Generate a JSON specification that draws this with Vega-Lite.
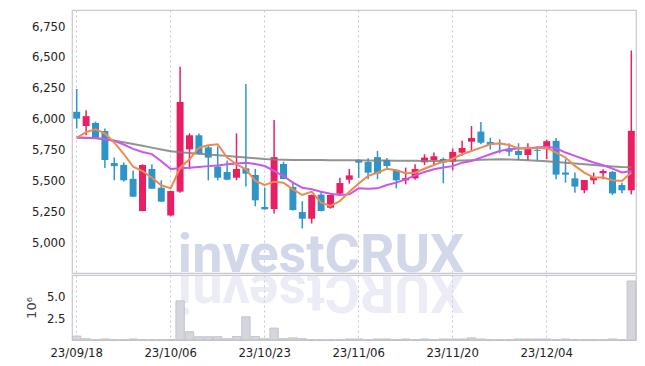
{
  "$schema": "https://vega.github.io/schema/vega-lite/v6.json",
  "padding": {"left": 24, "top": 9, "right": 5, "bottom": 5},
  "background": "white",
  "spacing": 0,
  "data": {"values": [
    {"d":"23/09/18","o":6055,"h":6240,"l":5920,"c":6000,"v":0.45,"m5":5845,"m20":5846,"m60":5846},
    {"d":"23/09/19","o":5940,"h":6068,"l":5865,"c":6020,"v":0.15,"m5":5891,"m20":5845,"m60":5843},
    {"d":"23/09/20","o":5965,"h":5975,"l":5840,"c":5845,"v":0.03,"m5":5913,"m20":5843,"m60":5840},
    {"d":"23/09/21","o":5900,"h":5920,"l":5600,"c":5665,"v":0.12,"m5":5880,"m20":5835,"m60":5832},
    {"d":"23/09/22","o":5640,"h":5685,"l":5500,"c":5615,"v":0.03,"m5":5805,"m20":5820,"m60":5820},
    {"d":"23/09/25","o":5625,"h":5645,"l":5490,"c":5500,"v":0.03,"m5":5715,"m20":5790,"m60":5808},
    {"d":"23/09/26","o":5512,"h":5580,"l":5365,"c":5367,"v":0.12,"m5":5610,"m20":5755,"m60":5795},
    {"d":"23/09/27","o":5251,"h":5630,"l":5250,"c":5624,"v":0.03,"m5":5575,"m20":5730,"m60":5780},
    {"d":"23/10/04","o":5592,"h":5630,"l":5430,"c":5432,"v":0.03,"m5":5521,"m20":5712,"m60":5765},
    {"d":"23/10/05","o":5440,"h":5500,"l":5325,"c":5327,"v":0.03,"m5":5460,"m20":5655,"m60":5750},
    {"d":"23/10/06","o":5215,"h":5415,"l":5210,"c":5413,"v":0.05,"m5":5435,"m20":5592,"m60":5735},
    {"d":"23/10/10","o":5408,"h":6420,"l":5400,"c":6135,"v":4.47,"m5":5602,"m20":5598,"m60":5728},
    {"d":"23/10/11","o":5751,"h":5880,"l":5590,"c":5865,"v":0.95,"m5":5670,"m20":5602,"m60":5722},
    {"d":"23/10/12","o":5865,"h":5880,"l":5710,"c":5716,"v":0.38,"m5":5764,"m20":5608,"m60":5716},
    {"d":"23/10/13","o":5767,"h":5780,"l":5500,"c":5684,"v":0.38,"m5":5785,"m20":5615,"m60":5710},
    {"d":"23/10/16","o":5611,"h":5775,"l":5500,"c":5521,"v":0.38,"m5":5792,"m20":5620,"m60":5704},
    {"d":"23/10/17","o":5567,"h":5660,"l":5500,"c":5505,"v":0.15,"m5":5684,"m20":5630,"m60":5698},
    {"d":"23/10/18","o":5521,"h":5880,"l":5500,"c":5592,"v":0.40,"m5":5630,"m20":5637,"m60":5690},
    {"d":"23/10/19","o":5597,"h":6280,"l":5450,"c":5554,"v":2.65,"m5":5589,"m20":5643,"m60":5684},
    {"d":"23/10/20","o":5543,"h":5592,"l":5290,"c":5338,"v":0.40,"m5":5495,"m20":5632,"m60":5678},
    {"d":"23/10/23","o":5284,"h":5440,"l":5262,"c":5265,"v":0.15,"m5":5462,"m20":5616,"m60":5672},
    {"d":"23/10/24","o":5267,"h":5988,"l":5232,"c":5688,"v":1.36,"m5":5489,"m20":5576,"m60":5668},
    {"d":"23/10/25","o":5632,"h":5651,"l":5510,"c":5510,"v":0.15,"m5":5481,"m20":5535,"m60":5666},
    {"d":"23/10/26","o":5446,"h":5489,"l":5255,"c":5259,"v":0.25,"m5":5427,"m20":5481,"m60":5665},
    {"d":"23/10/27","o":5243,"h":5330,"l":5110,"c":5189,"v":0.15,"m5":5381,"m20":5440,"m60":5665},
    {"d":"23/10/30","o":5189,"h":5385,"l":5150,"c":5381,"v":0.03,"m5":5408,"m20":5427,"m60":5664},
    {"d":"23/10/31","o":5384,"h":5413,"l":5250,"c":5251,"v":0.03,"m5":5319,"m20":5408,"m60":5664},
    {"d":"23/11/01","o":5278,"h":5385,"l":5270,"c":5381,"v":0.03,"m5":5292,"m20":5392,"m60":5663},
    {"d":"23/11/02","o":5392,"h":5520,"l":5385,"c":5478,"v":0.03,"m5":5332,"m20":5381,"m60":5662},
    {"d":"23/11/03","o":5505,"h":5592,"l":5473,"c":5540,"v":0.12,"m5":5408,"m20":5386,"m60":5662},
    {"d":"23/11/06","o":5665,"h":5670,"l":5519,"c":5643,"v":0.12,"m5":5475,"m20":5435,"m60":5662},
    {"d":"23/11/07","o":5649,"h":5678,"l":5508,"c":5562,"v":0.03,"m5":5535,"m20":5432,"m60":5661},
    {"d":"23/11/08","o":5688,"h":5738,"l":5508,"c":5555,"v":0.12,"m5":5562,"m20":5435,"m60":5660},
    {"d":"23/11/09","o":5665,"h":5680,"l":5589,"c":5616,"v":0.12,"m5":5594,"m20":5462,"m60":5660},
    {"d":"23/11/10","o":5584,"h":5590,"l":5435,"c":5500,"v":0.03,"m5":5581,"m20":5481,"m60":5659},
    {"d":"23/11/13","o":5500,"h":5603,"l":5467,"c":5519,"v":0.12,"m5":5557,"m20":5508,"m60":5658},
    {"d":"23/11/14","o":5516,"h":5630,"l":5505,"c":5592,"v":0.03,"m5":5562,"m20":5540,"m60":5658},
    {"d":"23/11/15","o":5646,"h":5711,"l":5624,"c":5684,"v":0.12,"m5":5594,"m20":5567,"m60":5657},
    {"d":"23/11/16","o":5665,"h":5725,"l":5625,"c":5695,"v":0.03,"m5":5624,"m20":5589,"m60":5657},
    {"d":"23/11/17","o":5673,"h":5684,"l":5476,"c":5643,"v":0.12,"m5":5651,"m20":5603,"m60":5657},
    {"d":"23/11/20","o":5651,"h":5759,"l":5581,"c":5730,"v":0.12,"m5":5675,"m20":5615,"m60":5658},
    {"d":"23/11/21","o":5724,"h":5820,"l":5700,"c":5762,"v":0.12,"m5":5711,"m20":5643,"m60":5660},
    {"d":"23/11/22","o":5813,"h":5940,"l":5738,"c":5843,"v":0.25,"m5":5738,"m20":5657,"m60":5663},
    {"d":"23/11/23","o":5895,"h":5973,"l":5792,"c":5805,"v":0.12,"m5":5765,"m20":5684,"m60":5666},
    {"d":"23/11/24","o":5811,"h":5845,"l":5750,"c":5786,"v":0.03,"m5":5792,"m20":5711,"m60":5668},
    {"d":"23/11/27","o":5800,"h":5832,"l":5719,"c":5792,"v":0.03,"m5":5800,"m20":5738,"m60":5670},
    {"d":"23/11/28","o":5757,"h":5800,"l":5697,"c":5732,"v":0.03,"m5":5786,"m20":5751,"m60":5669},
    {"d":"23/11/29","o":5738,"h":5800,"l":5665,"c":5705,"v":0.12,"m5":5759,"m20":5757,"m60":5666},
    {"d":"23/11/30","o":5705,"h":5800,"l":5665,"c":5765,"v":0.12,"m5":5759,"m20":5759,"m60":5662},
    {"d":"23/12/01","o":5745,"h":5776,"l":5665,"c":5738,"v":0.12,"m5":5759,"m20":5765,"m60":5658},
    {"d":"23/12/04","o":5752,"h":5830,"l":5671,"c":5817,"v":0.12,"m5":5764,"m20":5772,"m60":5654},
    {"d":"23/12/05","o":5820,"h":5842,"l":5508,"c":5546,"v":0.03,"m5":5725,"m20":5760,"m60":5648},
    {"d":"23/12/06","o":5563,"h":5671,"l":5481,"c":5546,"v":0.12,"m5":5685,"m20":5725,"m60":5642},
    {"d":"23/12/07","o":5516,"h":5563,"l":5400,"c":5449,"v":0.03,"m5":5617,"m20":5698,"m60":5636},
    {"d":"23/12/08","o":5419,"h":5503,"l":5395,"c":5503,"v":0.03,"m5":5563,"m20":5671,"m60":5630},
    {"d":"23/12/11","o":5500,"h":5563,"l":5468,"c":5527,"v":0.03,"m5":5522,"m20":5644,"m60":5624},
    {"d":"23/12/12","o":5557,"h":5590,"l":5508,"c":5576,"v":0.03,"m5":5522,"m20":5622,"m60":5618},
    {"d":"23/12/13","o":5568,"h":5575,"l":5381,"c":5394,"v":0.12,"m5":5500,"m20":5595,"m60":5612},
    {"d":"23/12/14","o":5462,"h":5481,"l":5395,"c":5419,"v":0.03,"m5":5495,"m20":5563,"m60":5607},
    {"d":"23/12/15","o":5419,"h":6552,"l":5386,"c":5901,"v":6.74,"m5":5563,"m20":5576,"m60":5605}
  ]},
  "vconcat": [
    {
      "width": 564,
      "height": 263,
      "encoding": {
        "x": {"field": "d", "type": "ordinal", "sort": null, "scale": {"paddingInner": 0, "paddingOuter": 0},
              "axis": {"values": ["23/09/18","23/10/06","23/10/23","23/11/06","23/11/20","23/12/04"], "labels": false, "ticks": false, "domain": false, "title": null, "grid": true}}
      },
      "layer": [
        {
          "mark": {"type": "text", "font": "Roboto", "fontWeight": "bold", "fontSize": 54, "color": "#d3d7ea", "baseline": "alphabetic", "align": "center", "clip": true},
          "encoding": {
            "y": {"datum": 4757, "type": "quantitative", "scale": {"domain": [4749, 6880], "nice": false, "zero": false},
                  "axis": {"values": [5000,5250,5500,5750,6000,6250,6500,6750], "format": ",", "labelExpr": "format(datum.value, ',')", "labelOverlap": false, "title": null, "domain": false, "ticks": false, "labelPadding": 7}},
            "text": {"condition": {"test": "datum.d == '23/10/31'", "value": "investCRUX"}, "value": ""}
          }
        },
        {
          "mark": {"type": "rule", "strokeWidth": 1.5},
          "encoding": {
            "y": {"field": "l", "type": "quantitative", "scale": {"domain": [4749, 6880], "nice": false, "zero": false},
                  "axis": {"values": [5000,5250,5500,5750,6000,6250,6500,6750], "format": ",", "labelExpr": "format(datum.value, ',')", "labelOverlap": false, "title": null, "domain": false, "ticks": false, "labelPadding": 7}},
            "y2": {"field": "h"},
            "color": {"condition": {"test": "datum.c >= datum.o", "value": "#e91e63"}, "value": "#2f95c8"}
          }
        },
        {
          "mark": {"type": "bar", "width": {"band": 0.74}},
          "encoding": {
            "y": {"field": "o", "type": "quantitative", "scale": {"domain": [4749, 6880], "nice": false, "zero": false},
                  "axis": {"values": [5000,5250,5500,5750,6000,6250,6500,6750], "format": ",", "labelExpr": "format(datum.value, ',')", "labelOverlap": false, "title": null, "domain": false, "ticks": false, "labelPadding": 7}},
            "y2": {"field": "c"},
            "color": {"condition": {"test": "datum.c >= datum.o", "value": "#e91e63"}, "value": "#2f95c8"}
          }
        },
        {
          "mark": {"type": "line", "color": "#808080", "strokeWidth": 2, "opacity": 0.85},
          "encoding": {"y": {"field": "m60", "type": "quantitative", "scale": {"domain": [4749, 6880], "nice": false, "zero": false},
                  "axis": {"values": [5000,5250,5500,5750,6000,6250,6500,6750], "format": ",", "labelExpr": "format(datum.value, ',')", "labelOverlap": false, "title": null, "domain": false, "ticks": false, "labelPadding": 7}}}
        },
        {
          "mark": {"type": "line", "color": "#c957ee", "strokeWidth": 2},
          "encoding": {"y": {"field": "m20", "type": "quantitative", "scale": {"domain": [4749, 6880], "nice": false, "zero": false},
                  "axis": {"values": [5000,5250,5500,5750,6000,6250,6500,6750], "format": ",", "labelExpr": "format(datum.value, ',')", "labelOverlap": false, "title": null, "domain": false, "ticks": false, "labelPadding": 7}}}
        },
        {
          "mark": {"type": "line", "color": "#ef8a4d", "strokeWidth": 2},
          "encoding": {"y": {"field": "m5", "type": "quantitative", "scale": {"domain": [4749, 6880], "nice": false, "zero": false},
                  "axis": {"values": [5000,5250,5500,5750,6000,6250,6500,6750], "format": ",", "labelExpr": "format(datum.value, ',')", "labelOverlap": false, "title": null, "domain": false, "ticks": false, "labelPadding": 7}}}
        }
      ]
    },
    {
      "width": 564,
      "height": 65,
      "encoding": {
        "x": {"field": "d", "type": "ordinal", "sort": null, "scale": {"paddingInner": 0, "paddingOuter": 0},
              "axis": {"values": ["23/09/18","23/10/06","23/10/23","23/11/06","23/11/20","23/12/04"], "labelAngle": 0, "ticks": false, "domain": false, "title": null, "grid": true, "labelPadding": 6}}
      },
      "layer": [
        {
          "mark": {"type": "text", "font": "Roboto", "fontWeight": "bold", "fontSize": 54, "color": "#d3d7ea", "opacity": 0.45, "baseline": "alphabetic", "align": "center", "angle": 180, "clip": true},
          "encoding": {
            "y": {"datum": 7.42, "type": "quantitative", "scale": {"domain": [0, 7.42], "nice": false},
                  "axis": {"values": [2.5, 5.0], "labelExpr": "format(datum.value, '.1f')", "title": "10⁶", "domain": false, "ticks": false, "labelPadding": 7, "titlePadding": 8, "titleFont": "DejaVu Sans", "titleFontWeight": "normal", "titleFontSize": 13, "titleColor": "#444"}},
            "text": {"condition": {"test": "datum.d == '23/10/31'", "value": "XURCtsevni"}, "value": ""}
          }
        },
        {
          "mark": {"type": "bar", "width": {"band": 0.9}, "color": "#d5d5dc", "stroke": "#bcbcc6", "strokeWidth": 0.8},
          "encoding": {
            "y": {"field": "v", "type": "quantitative", "scale": {"domain": [0, 7.42], "nice": false},
                  "axis": {"values": [2.5, 5.0], "labelExpr": "format(datum.value, '.1f')", "title": "10⁶", "domain": false, "ticks": false, "labelPadding": 7, "titlePadding": 8, "titleFont": "DejaVu Sans", "titleFontWeight": "normal", "titleFontSize": 13, "titleColor": "#444"}}
          }
        }
      ]
    }
  ],
  "config": {
    "view": {"stroke": "#c8c8ce", "strokeWidth": 1.2},
    "axis": {
      "labelFont": "DejaVu Sans Condensed, Liberation Sans, sans-serif",
      "labelFontSize": 13,
      "labelColor": "#222",
      "gridColor": "#c6c6d8",
      "gridDash": [2, 3],
      "gridWidth": 1
    }
  }
}
